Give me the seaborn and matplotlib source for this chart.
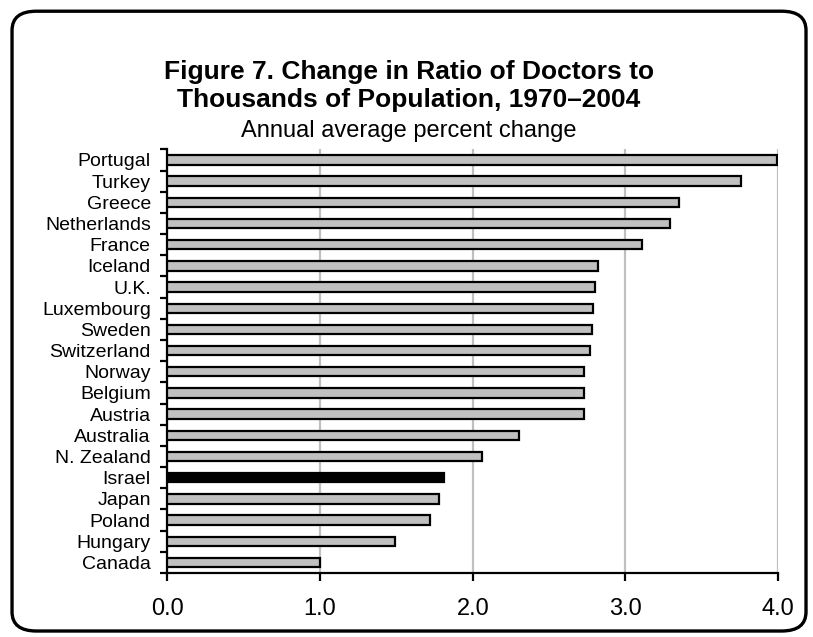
import matplotlib
matplotlib.use("Agg")
import matplotlib.pyplot as plt
from matplotlib.patches import FancyBboxPatch
from matplotlib.ticker import FixedLocator
import seaborn as sns
import pandas as pd

countries = ["Portugal", "Turkey", "Greece", "Netherlands", "France", "Iceland",
             "U.K.", "Luxembourg", "Sweden", "Switzerland", "Norway", "Belgium",
             "Austria", "Australia", "N. Zealand", "Israel", "Japan", "Poland",
             "Hungary", "Canada"]
change = [3.99, 3.76, 3.35, 3.29, 3.11, 2.82, 2.80, 2.79, 2.78, 2.77, 2.73,
          2.73, 2.73, 2.30, 2.06, 1.81, 1.78, 1.72, 1.49, 1.00]
highlight = "Israel"
x_ticks = [0.0, 1.0, 2.0, 3.0, 4.0]

sns.set_theme(style="white")
plt.rcParams["font.family"] = ["Liberation Sans", "DejaVu Sans"]
plt.rcParams["text.color"] = "black"
plt.rcParams["xtick.color"] = "black"
plt.rcParams["ytick.color"] = "black"

df = pd.DataFrame({"country": countries, "change": change})
palette = {c: ("black" if c == highlight else "#c0c0c0") for c in countries}

fig = plt.figure(figsize=(8.13, 6.37), dpi=100)
ax = fig.add_axes([0.206, 0.1005, 0.751, 0.665])

sns.barplot(data=df, x="change", y="country", hue="country", palette=palette,
            legend=False, orient="h", width=0.44, edgecolor="black",
            linewidth=1.6, ax=ax, zorder=3)

ax.set_xlim(0, 4.0)
ax.set_ylim(len(countries) - 0.5, -0.5)
ax.set_xticks(x_ticks)
ax.set_xticklabels([f"{t:.1f}" for t in x_ticks], fontsize=17)
ax.set_xlabel("")
ax.set_ylabel("")
ax.tick_params(axis="y", which="major", length=0, labelsize=14, pad=12,
               labelcolor="black")
ax.yaxis.set_minor_locator(FixedLocator([i - 0.5 for i in range(len(countries) + 1)]))
ax.tick_params(axis="y", which="minor", left=True, length=5, width=1.6, color="black")
ax.tick_params(axis="x", which="major", bottom=True, length=6, width=1.6,
               color="black", labelcolor="black", pad=12)

ax.grid(axis="x", color="#c0c0c0", linewidth=1.6, zorder=0)
ax.set_axisbelow(True)
for side in ["top", "right"]:
    ax.spines[side].set_visible(False)
for side in ["left", "bottom"]:
    ax.spines[side].set_color("black")
    ax.spines[side].set_linewidth(1.6)

fig.text(0.503, 0.876, "Figure 7. Change in Ratio of Doctors to",
         ha="center", va="baseline", fontsize=19, fontweight="bold", color="black")
fig.text(0.503, 0.832, "Thousands of Population, 1970\u20132004",
         ha="center", va="baseline", fontsize=19, fontweight="bold", color="black")
fig.text(0.503, 0.785, "Annual average percent change",
         ha="center", va="baseline", fontsize=17, color="black")

border = FancyBboxPatch((0.0148, 0.0094), 0.9766, 0.973,
                        boxstyle="round,pad=0,rounding_size=0.03",
                        transform=fig.transFigure, fill=False,
                        edgecolor="black", linewidth=2.4)
fig.add_artist(border)

fig.savefig("out.png", dpi=100)
